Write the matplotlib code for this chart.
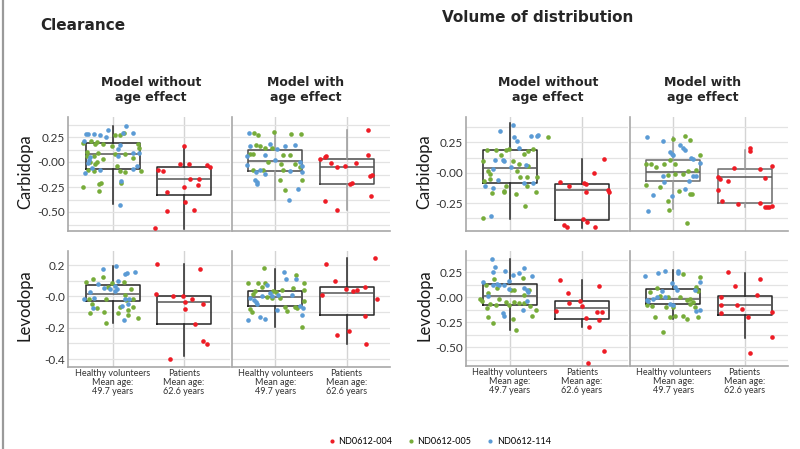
import matplotlib
matplotlib.use("Agg")
import matplotlib.pyplot as plt
from matplotlib.lines import Line2D

# point lists are (horizontal jitter, value); boxes are (whislo, q1, median, q3, whishi)
cl_carb_wo_green = [(-0.41, 0.19), (-0.31, 0.207), (-0.22, 0.2), (-0.25, 0.177), (-0.14, 0.177),
                    (-0.01, 0.16), (0.03, 0.267), (0.10, 0.273), (0.16, 0.29), (-0.36, 0.10),
                    (-0.21, 0.093), (-0.36, 0.06), (-0.26, 0.06), (-0.14, 0.027), (-0.32, 0.0),
                    (-0.22, 0.0), (-0.25, -0.023), (-0.35, -0.083), (-0.26, -0.093), (0.03, 0.077),
                    (0.17, 0.077), (0.06, -0.04), (0.10, -0.09), (0.17, -0.10), (0.28, 0.04),
                    (0.36, 0.183), (0.37, 0.143), (0.40, -0.093), (-0.16, -0.21), (-0.19, -0.223),
                    (-0.19, -0.293), (-0.41, -0.253), (0.12, -0.21)]
cl_carb_wo_blue = [(-0.40, 0.21), (-0.37, 0.277), (-0.34, 0.283), (-0.26, 0.283), (-0.18, 0.267),
                   (-0.10, 0.25), (-0.07, 0.317), (0.19, 0.357), (0.15, 0.29), (0.29, 0.29),
                   (0.10, 0.173), (0.08, 0.127), (0.08, 0.057), (-0.32, 0.05), (-0.33, 0.017),
                   (-0.34, -0.01), (-0.29, -0.057), (-0.39, -0.11), (-0.18, -0.077), (0.29, 0.09),
                   (0.37, 0.09), (0.34, -0.043), (0.29, -0.067), (0.12, -0.19), (0.10, -0.427)]
cl_carb_wo_red = [(-0.37, -0.083), (-0.29, -0.093), (-0.24, -0.30), (-0.24, -0.493), (-0.40, -0.66),
                  (0.0, 0.157), (-0.06, -0.02), (0.07, -0.017), (0.0, -0.25), (0.02, -0.40),
                  (0.09, -0.167), (0.21, -0.173), (0.19, -0.23), (0.14, -0.483), (0.32, -0.027),
                  (0.36, -0.05)]
cl_carb_wo_box = [(-0.423, -0.067, 0.077, 0.19, 0.357), (-0.667, -0.327, -0.167, -0.05, 0.157)]

cl_carb_w_green = [(-0.36, 0.077), (-0.31, 0.083), (-0.27, 0.173), (-0.21, 0.16), (-0.30, 0.29),
                   (-0.24, 0.267), (-0.02, 0.30), (-0.14, 0.143), (-0.05, 0.143), (-0.10, 0.0),
                   (-0.17, -0.077), (-0.31, -0.077), (0.08, -0.017), (0.11, -0.083), (0.06, -0.177),
                   (0.14, -0.277), (0.22, 0.277), (0.36, 0.277), (0.21, 0.067), (0.28, -0.023),
                   (0.37, -0.177), (0.35, -0.05), (0.11, 0.067)]
cl_carb_w_blue = [(-0.37, 0.29), (-0.35, 0.157), (-0.40, 0.057), (-0.39, -0.033), (-0.27, -0.097),
                  (-0.21, -0.083), (-0.28, -0.177), (-0.26, -0.20), (-0.25, -0.223), (-0.14, -0.117),
                  (-0.15, 0.067), (-0.07, 0.183), (0.0, 0.023), (0.02, 0.133), (0.14, 0.16),
                  (0.28, 0.167), (0.21, -0.09), (0.19, -0.383), (0.32, -0.273), (0.37, -0.043),
                  (0.38, -0.103), (0.35, 0.0)]
cl_carb_w_red = [(-0.37, 0.033), (-0.30, 0.05), (-0.29, 0.057), (-0.22, -0.01), (-0.13, -0.05),
                 (-0.03, -0.043), (0.13, -0.007), (0.05, -0.217), (0.07, -0.207), (-0.31, -0.393),
                 (-0.13, -0.483), (0.30, 0.067), (0.30, 0.317), (0.33, -0.143), (0.35, -0.133),
                 (0.34, -0.34)]
cl_carb_w_box = [(-0.38, -0.087, 0.01, 0.123, 0.30), (-0.483, -0.217, -0.047, 0.033, 0.317)]

cl_levo_wo_green = [(-0.37, 0.092), (-0.28, 0.11), (-0.13, 0.127), (-0.07, 0.062), (-0.01, 0.086),
                    (0.16, 0.09), (0.26, 0.047), (-0.33, -0.015), (-0.29, -0.049), (-0.32, -0.103),
                    (-0.22, -0.071), (-0.12, -0.10), (-0.09, -0.17), (0.07, -0.108), (0.10, -0.069),
                    (0.17, 0.011), (0.19, -0.024), (0.21, -0.088), (0.21, -0.118), (0.29, -0.065),
                    (0.35, -0.14), (0.29, -0.015), (-0.09, -0.017)]
cl_levo_wo_blue = [(-0.14, 0.178), (0.04, 0.194), (0.17, 0.144), (0.20, 0.15), (0.31, 0.157),
                   (0.08, 0.10), (-0.04, 0.047), (-0.12, 0.052), (-0.20, 0.082), (-0.26, -0.011),
                   (-0.28, -0.075), (-0.40, -0.015), (0.03, 0.065), (0.03, 0.032), (0.17, -0.015),
                   (0.23, -0.017), (0.22, -0.047), (0.16, -0.15), (0.13, -0.058), (0.06, 0.047),
                   (-0.32, 0.026)]
cl_levo_wo_red = [(-0.38, 0.209), (-0.39, 0.015), (-0.15, 0.0), (-0.01, 0.002), (0.02, -0.037),
                  (0.01, -0.082), (0.11, -0.015), (0.16, -0.176), (0.23, 0.178), (0.26, -0.047),
                  (0.27, -0.286), (0.32, -0.303), (-0.20, -0.398)]
cl_levo_wo_box = [(-0.168, -0.028, 0.015, 0.073, 0.194), (-0.383, -0.178, -0.037, 0.006, 0.204)]

cl_levo_w_green = [(-0.38, 0.086), (-0.24, 0.086), (-0.14, 0.086), (-0.16, 0.183), (-0.29, 0.037),
                   (-0.31, 0.015), (-0.35, -0.08), (-0.32, -0.097), (-0.18, 0.058), (-0.12, -0.004),
                   (-0.03, 0.032), (-0.04, -0.011), (0.01, 0.028), (0.09, 0.043), (0.06, -0.011),
                   (0.13, -0.069), (0.17, -0.09), (0.29, 0.14), (0.25, 0.054), (0.28, -0.065),
                   (0.31, -0.075), (0.40, 0.039), (0.40, 0.086), (0.38, -0.194), (0.40, -0.028)]
cl_levo_w_blue = [(-0.38, -0.15), (-0.22, -0.133), (-0.14, -0.144), (-0.36, -0.011), (-0.30, -0.022),
                  (-0.27, -0.037), (-0.26, -0.049), (-0.11, 0.075), (-0.19, 0.0), (-0.07, 0.022),
                  (-0.04, 0.004), (0.04, 0.011), (0.12, 0.157), (0.15, 0.112), (0.29, 0.11),
                  (0.24, 0.011), (0.35, -0.06), (0.39, -0.075), (0.38, -0.118), (0.03, -0.086)]
cl_levo_w_red = [(-0.34, 0.011), (-0.29, 0.204), (-0.16, 0.101), (-0.14, -0.247), (-0.01, 0.047),
                 (0.03, -0.222), (0.09, 0.032), (0.15, 0.043), (0.25, 0.06), (0.25, -0.123),
                 (0.27, -0.301), (0.40, 0.243), (0.42, -0.015)]
cl_levo_w_box = [(-0.194, -0.062, -0.004, 0.037, 0.176), (-0.301, -0.118, 0.022, 0.062, 0.247)]

vd_carb_wo_green = [(-0.38, 0.097), (-0.32, 0.186), (-0.19, 0.192), (-0.06, 0.192), (-0.13, 0.15),
                    (-0.02, 0.197), (0.04, 0.097), (0.12, 0.075), (0.19, 0.158), (0.25, 0.178),
                    (0.53, 0.294), (0.32, 0.20), (0.10, 0.011), (0.14, -0.036), (0.23, -0.036),
                    (0.25, 0.053), (0.37, -0.036), (-0.28, -0.008), (-0.31, 0.011), (-0.28, -0.05),
                    (-0.36, -0.064), (-0.25, -0.169), (-0.08, -0.147), (-0.09, -0.161), (-0.05, -0.106),
                    (0.08, -0.175), (0.23, -0.106), (0.36, -0.156), (0.21, -0.272), (-0.38, -0.375)]
vd_carb_wo_blue = [(-0.14, 0.344), (0.04, 0.392), (0.05, 0.297), (0.10, 0.261), (0.13, 0.208),
                   (0.29, 0.306), (0.37, 0.303), (0.39, 0.308), (-0.10, 0.103), (-0.08, 0.094),
                   (-0.23, 0.028), (-0.16, -0.056), (-0.35, -0.106), (-0.24, -0.125), (-0.27, -0.356),
                   (0.19, -0.086), (0.32, -0.086), (0.22, 0.067), (-0.21, 0.103), (0.02, 0.047)]
vd_carb_wo_red = [(-0.31, -0.078), (-0.18, -0.106), (-0.25, -0.433), (-0.21, -0.447), (0.02, -0.383),
                  (0.03, -0.086), (0.06, -0.092), (0.06, -0.156), (0.07, -0.406), (0.17, 0.0),
                  (0.18, -0.447), (0.31, 0.117), (0.36, -0.139), (0.37, -0.156)]
vd_carb_wo_box = [(-0.378, -0.083, 0.042, 0.192, 0.408), (-0.453, -0.392, -0.142, -0.092, 0.117)]

vd_carb_w_green = [(0.0, 0.275), (0.16, 0.303), (0.24, 0.269), (-0.38, 0.075), (-0.31, 0.075),
                   (-0.24, 0.047), (-0.13, 0.075), (-0.05, 0.103), (0.03, 0.075), (-0.07, -0.017),
                   (0.02, -0.008), (0.13, -0.014), (0.21, 0.014), (0.32, 0.019), (0.37, 0.144),
                   (-0.38, -0.097), (-0.18, -0.119), (-0.07, -0.231), (-0.06, -0.308), (0.08, -0.147),
                   (0.23, -0.175), (0.26, -0.175), (0.19, -0.411)]
vd_carb_w_blue = [(-0.37, 0.297), (-0.15, 0.264), (-0.05, 0.172), (-0.02, 0.158), (0.0, 0.15),
                  (0.10, 0.228), (0.13, 0.208), (0.16, 0.192), (0.25, 0.125), (0.28, 0.117),
                  (0.27, -0.028), (0.22, -0.069), (0.32, -0.028), (0.38, 0.081), (-0.13, -0.078),
                  (-0.15, -0.028), (-0.28, -0.186), (-0.35, -0.314), (-0.02, -0.192), (0.17, -0.131)]
vd_carb_w_red = [(-0.38, -0.139), (-0.37, -0.036), (-0.34, -0.05), (-0.24, -0.069), (-0.32, -0.236),
                 (-0.15, 0.042), (-0.09, -0.258), (0.07, 0.208), (0.07, 0.181), (0.21, 0.033),
                 (0.22, -0.247), (0.28, -0.044), (0.28, -0.281), (0.31, -0.281), (0.34, -0.281),
                 (0.38, -0.272), (0.38, 0.056)]
vd_carb_w_box = [(-0.30, -0.064, 0.008, 0.103, 0.297), (-0.28, -0.253, -0.036, 0.028, 0.186)]

vd_levo_wo_green = [(-0.33, 0.122), (-0.22, 0.18), (-0.18, 0.094), (-0.31, 0.042), (-0.42, -0.021),
                    (-0.39, -0.035), (-0.28, -0.063), (-0.20, -0.08), (-0.15, -0.017), (-0.32, -0.104),
                    (-0.31, -0.194), (-0.24, -0.253), (-0.05, -0.045), (-0.02, -0.08), (0.02, 0.076),
                    (0.05, 0.076), (0.06, -0.045), (0.04, -0.219), (0.09, -0.333), (0.13, -0.056),
                    (0.18, 0.198), (0.26, 0.069), (0.19, -0.056), (0.28, -0.09), (0.31, -0.191),
                    (0.36, -0.132), (0.20, 0.024)]
vd_levo_wo_blue = [(-0.25, 0.389), (-0.21, 0.309), (-0.23, 0.25), (-0.07, 0.26), (0.04, 0.226),
                   (0.12, 0.24), (0.19, 0.295), (0.31, 0.212), (-0.38, 0.153), (-0.23, 0.122),
                   (-0.18, 0.139), (-0.15, 0.128), (-0.08, 0.122), (-0.01, 0.163), (-0.01, 0.087),
                   (0.20, 0.094), (0.23, 0.076), (0.25, 0.049), (-0.31, 0.014), (-0.10, -0.16),
                   (-0.09, -0.184), (0.18, -0.125), (0.23, -0.035)]
vd_levo_wo_red = [(-0.30, 0.174), (-0.36, -0.139), (-0.19, 0.042), (-0.18, -0.056), (-0.03, -0.038),
                  (0.0, -0.09), (0.06, -0.208), (0.10, -0.299), (0.21, -0.149), (0.28, -0.149),
                  (0.24, 0.118), (0.24, -0.226), (0.30, -0.538), (0.09, -0.656)]
vd_levo_wo_box = [(-0.333, -0.08, 0.014, 0.135, 0.389), (-0.299, -0.219, -0.108, -0.038, 0.17)]

vd_levo_w_green = [(-0.23, 0.094), (-0.33, 0.049), (-0.37, -0.08), (-0.30, -0.09), (-0.19, 0.014),
                   (-0.08, 0.007), (-0.10, -0.097), (-0.01, -0.097), (0.09, 0.007), (0.19, -0.028),
                   (0.23, -0.021), (0.28, -0.045), (0.32, 0.104), (0.35, 0.066), (0.38, 0.205),
                   (0.14, 0.233), (-0.05, -0.201), (0.02, -0.184), (0.19, -0.219), (0.14, -0.184),
                   (0.35, -0.194), (-0.25, -0.194), (-0.15, -0.351), (0.23, -0.069), (0.30, -0.097)]
vd_levo_w_blue = [(-0.39, 0.215), (-0.21, 0.243), (-0.12, 0.267), (0.06, 0.267), (0.07, 0.243),
                  (-0.02, 0.146), (0.02, 0.104), (0.05, 0.076), (-0.16, 0.059), (-0.37, -0.028),
                  (-0.35, -0.038), (-0.28, -0.017), (-0.23, 0.007), (-0.12, 0.0), (-0.05, -0.063),
                  (-0.01, -0.08), (0.32, -0.142), (0.37, -0.132), (0.38, 0.153), (0.30, 0.076)]
vd_levo_w_red = [(-0.33, 0.007), (-0.33, -0.08), (-0.33, -0.16), (-0.24, 0.25), (-0.14, 0.118),
                 (-0.11, -0.08), (-0.04, -0.122), (0.05, -0.201), (0.08, -0.556), (0.17, 0.024),
                 (0.21, 0.181), (0.38, -0.149), (0.38, -0.403)]
vd_levo_w_box = [(-0.219, -0.069, -0.017, 0.083, 0.274), (-0.41, -0.174, -0.08, 0.017, 0.243)]

group_labels = ["Healthy volunteers\nMean age:\n49.7 years", "Patients\nMean age:\n62.6 years"]
series_names = ["ND0612-004", "ND0612-005", "ND0612-114"]
series_colors = ["#ee1c25", "#77ac3a", "#5b9bd5"]

quarter_ticks = [0.25, 0.0, -0.25, -0.5]
quarter_labels = ["0.25", "-0.00", "-0.25", "-0.50"]
fifth_ticks = [0.2, 0.0, -0.2, -0.4]
fifth_labels = ["0.2", "-0.0", "-0.2", "-0.4"]

TICK_FONT = "Lato"
GRID = "#e3e3e3"
SPINE = "#a8a8a8"


def draw_panel(ax, green, blue, red, boxes, xlim, ylim, ticks, ticklabels, minor_step,
               show_y=True, show_x=False, edge="#262626", whisk="#262626"):
    stats = []
    for lo, q1, med, q3, hi in boxes:
        stats.append({"whislo": lo, "q1": q1, "med": med, "q3": q3, "whishi": hi, "fliers": []})
    ax.bxp(stats, positions=[1, 2], widths=0.76, showcaps=False, showfliers=False,
           boxprops={"color": edge, "linewidth": 1.1},
           medianprops={"color": "#555555", "linewidth": 1.1},
           whiskerprops={"color": whisk, "linewidth": 1.1}, zorder=2)
    for pts, pos, col in [(green, 1, series_colors[1]), (blue, 1, series_colors[2]),
                          (red, 2, series_colors[0])]:
        ax.scatter([pos + p[0] for p in pts], [p[1] for p in pts], s=11, color=col,
                   linewidths=0, zorder=3)

    ax.set_yticks(ticks)
    ax.set_yticklabels(ticklabels if show_y else [], fontfamily=TICK_FONT, fontsize=8.5)
    minors = [k * minor_step for k in range(-10, 10) if ylim[0] < k * minor_step < ylim[1]]
    ax.set_yticks(minors, minor=True)
    ax.set_xticks([1, 2])
    if show_x:
        ax.set_xticklabels(group_labels, fontfamily=TICK_FONT, fontsize=6.5, color="#333333",
                           linespacing=1.0)
    else:
        ax.set_xticklabels(["", ""])
    ax.set_xlim(*xlim)
    ax.set_ylim(*ylim)

    ax.grid(True, which="both", axis="y", color=GRID, linewidth=0.9)
    ax.grid(True, which="major", axis="x", color="#d4d4d4", linewidth=1.0)
    ax.set_axisbelow(True)
    for s in ["top", "right"]:
        ax.spines[s].set_visible(False)
    for s in ["left", "bottom"]:
        ax.spines[s].set_color(SPINE)
        ax.spines[s].set_linewidth(1.2)
    ax.tick_params(which="both", length=0, colors="#333333")
    ax.tick_params(axis="y", pad=2)
    ax.tick_params(axis="x", pad=1.5)


fig = plt.figure(figsize=(8, 4.49), dpi=100)
W, H = 800, 449


def add_ax(x0, x1, y0, y1):
    return fig.add_axes([x0 / W, 1 - y1 / H, (x1 - x0) / W, (y1 - y0) / H])


ax1 = add_ax(68, 230, 117, 231)
ax2 = add_ax(232, 390, 117, 231)
ax3 = add_ax(68, 230, 251, 367)
ax4 = add_ax(232, 390, 251, 367)
ax5 = add_ax(466, 628, 117, 231)
ax6 = add_ax(630, 788, 117, 231)
ax7 = add_ax(466, 628, 251, 366)
ax8 = add_ax(630, 788, 251, 366)

xl_a = (0.373, 2.645)
xl_b = (0.393, 2.607)
xl_c = (0.389, 2.639)

draw_panel(ax1, cl_carb_wo_green, cl_carb_wo_blue, cl_carb_wo_red, cl_carb_wo_box, xl_a,
           (-0.69, 0.45), quarter_ticks, quarter_labels, 0.125)
draw_panel(ax2, cl_carb_w_green, cl_carb_w_blue, cl_carb_w_red, cl_carb_w_box, xl_b,
           (-0.69, 0.45), quarter_ticks, quarter_labels, 0.125, show_y=False,
           edge="#4a4a4a", whisk="#9a9a9a")
draw_panel(ax3, cl_levo_wo_green, cl_levo_wo_blue, cl_levo_wo_red, cl_levo_wo_box, xl_a,
           (-0.45, 0.29), fifth_ticks, fifth_labels, 0.1, show_x=True)
draw_panel(ax4, cl_levo_w_green, cl_levo_w_blue, cl_levo_w_red, cl_levo_w_box, xl_b,
           (-0.45, 0.29), fifth_ticks, fifth_labels, 0.1, show_y=False, show_x=True)
draw_panel(ax5, vd_carb_wo_green, vd_carb_wo_blue, vd_carb_wo_red, vd_carb_wo_box, xl_c,
           (-0.48, 0.46), quarter_ticks, quarter_labels, 0.125)
draw_panel(ax6, vd_carb_w_green, vd_carb_w_blue, vd_carb_w_red, vd_carb_w_box, xl_b,
           (-0.48, 0.46), quarter_ticks, quarter_labels, 0.125, show_y=False,
           edge="#6a6a6a", whisk="#9a9a9a")
draw_panel(ax7, vd_levo_wo_green, vd_levo_wo_blue, vd_levo_wo_red, vd_levo_wo_box, xl_c,
           (-0.69, 0.466), quarter_ticks, quarter_labels, 0.125, show_x=True)
draw_panel(ax8, vd_levo_w_green, vd_levo_w_blue, vd_levo_w_red, vd_levo_w_box, xl_b,
           (-0.69, 0.466), quarter_ticks, quarter_labels, 0.125, show_y=False, show_x=True)

# titles and row labels
title_kw = dict(fontfamily="DejaVu Sans", fontweight="bold", color="#262626")
fig.text(40 / W, 1 - 25 / H, "Clearance", fontsize=11, ha="left", va="center", **title_kw)
fig.text(442 / W, 1 - 17 / H, "Volume of distribution", fontsize=11, ha="left", va="center", **title_kw)
for xc, txt in [(151, "Model without\nage effect"), (306, "Model with\nage effect"),
                (548, "Model without\nage effect"), (703, "Model with\nage effect")]:
    fig.text(xc / W, 1 - 90 / H, txt, fontsize=9, ha="center", va="center", linespacing=1.15, **title_kw)

row_kw = dict(fontfamily=TICK_FONT, fontsize=12, color="#1a1a1a", rotation=90, ha="center", va="center")
fig.text(25 / W, 1 - 172 / H, "Carbidopa", **row_kw)
fig.text(25 / W, 1 - 305 / H, "Levodopa", **row_kw)
fig.text(424 / W, 1 - 172 / H, "Carbidopa", **row_kw)
fig.text(424 / W, 1 - 305 / H, "Levodopa", **row_kw)

# left slide border
fig.add_artist(Line2D([3 / W, 3 / W], [0, 1], color="#9a9a9a", linewidth=1.6))

handles = [Line2D([], [], marker="o", linestyle="", markersize=3, color=c, markeredgewidth=0)
           for c in series_colors]
fig.legend(handles, series_names, loc="center", bbox_to_anchor=(439 / W, 1 - 442 / H), ncol=3,
           frameon=False, prop={"family": TICK_FONT, "size": 6.5}, handletextpad=0.2,
           columnspacing=1.6, handlelength=1.0)

fig.savefig("out.png", dpi=100, facecolor="white")
